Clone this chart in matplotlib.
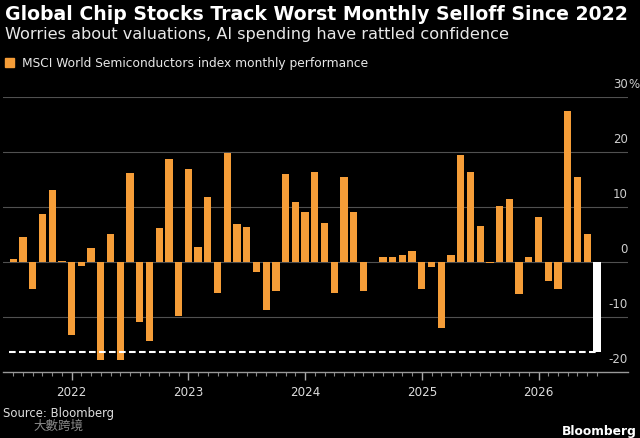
import pandas as pd
from matplotlib import pyplot as plt
from matplotlib.patches import Rectangle

# monthly performance, Jul 2021 .. Jul 2026 (last month shown in white)
months = pd.date_range("2021-07-01", "2026-07-01", freq="MS")
perf = [0.6, 4.5, -5.0, 8.7, 13.0, 0.1, -13.2, -0.7, 2.5, -17.8, 5.0, -17.9,
        16.1, -11.0, -14.4, 6.1, 18.6, -9.8, 16.8, 2.7, 11.8, -5.6, 19.7, 6.8,
        6.3, -1.9, -8.7, -5.3, 16.0, 10.8, 9.0, 16.4, 7.1, -5.6, 15.5, 9.1,
        -5.3, -0.1, 0.9, 0.9, 1.2, 2.0, -5.0, -0.9, -12.0, 1.3, 19.4, 16.4,
        6.6, -0.2, 10.1, 11.5, -5.8, 0.9, 8.2, -3.5, -5.0, 27.4, 15.5, 5.0, -16.4]
yticks = [-20, -10, 0, 10, 20, 30]

title = "Global Chip Stocks Track Worst Monthly Selloff Since 2022"
subtitle = "Worries about valuations, AI spending have rattled confidence"
legend_label = "MSCI World Semiconductors index monthly performance"

ORANGE = "#f59d38"
GRID = "#505050"
BG = "#000000"

W, H = 640, 438
fig = plt.figure(figsize=(W / 100, H / 100), dpi=100, facecolor=BG)
ax = fig.add_axes([3 / W, 1 - 372 / H, (628 - 3) / W, (372 - 96.7) / H])
ax.set_facecolor(BG)

x = list(range(len(months)))
colors = [ORANGE] * (len(perf) - 1) + ["white"]
ax.bar(x, perf, width=0.75, color=colors, zorder=3)

# dashed line at the latest month's level
ax.plot([-0.45, len(perf) - 1], [perf[-1], perf[-1]], color="white", lw=1.5,
        dashes=(3.2, 1.6), zorder=4)

ax.set_xlim(-1.06, 63.2)
ax.set_ylim(-20, 30)

for v in yticks:
    if v > -20:
        ax.axhline(v, color=GRID, lw=0.8, zorder=1)
    ax.text(1.0, v + 1.0, str(v), transform=ax.get_yaxis_transform(),
            ha="right", va="bottom", color="#cfcfcf", fontsize=8.5)
ax.text(1.0, 31.0, "%", transform=ax.get_yaxis_transform(),
        ha="left", va="bottom", color="#cfcfcf", fontsize=8.5)

jan = [i for i, m in enumerate(months) if m.month == 1]
ax.set_xticks(jan)
ax.set_xticklabels([str(months[i].year) for i in jan])
ax.set_xticks(x, minor=True)
ax.tick_params(axis="x", which="major", length=6, width=1, color="#aaaaaa",
               labelcolor="#dddddd", labelsize=8.6, pad=4)
ax.tick_params(axis="x", which="minor", length=3, width=0.8, color="#888888")
ax.set_yticks([])
for s in ["top", "left", "right"]:
    ax.spines[s].set_visible(False)
ax.spines["bottom"].set_color("#999999")
ax.spines["bottom"].set_linewidth(1)

def fy(px):
    return 1 - px / H

fig.text(5 / W, fy(20), title, color="white", fontsize=13.6,
         fontweight="bold", va="baseline", ha="left")
fig.text(5 / W, fy(39.3), subtitle, color="#e8e8e8", fontsize=11.65,
         va="baseline", ha="left")
fig.patches.append(Rectangle((5 / W, fy(67)), 9 / W, 9 / H, color=ORANGE,
                             transform=fig.transFigure, figure=fig))
fig.text(22 / W, fy(66.7), legend_label, color="#e8e8e8", fontsize=8.85,
         va="baseline", ha="left")

fig.text(3 / W, fy(417), "Source: Bloomberg", color="#dddddd", fontsize=8.4,
         va="baseline", ha="left")
fig.text(33 / W, fy(430), "大數跨境", color="#8a8a8a", fontsize=9,
         va="baseline", ha="left", family=["Noto Sans CJK TC", "DejaVu Sans"])
fig.text(637 / W, fy(435), "Bloomberg", color="white", fontsize=8.8,
         fontweight="bold", va="baseline", ha="right")

fig.savefig("out.png", dpi=100, facecolor=BG)
